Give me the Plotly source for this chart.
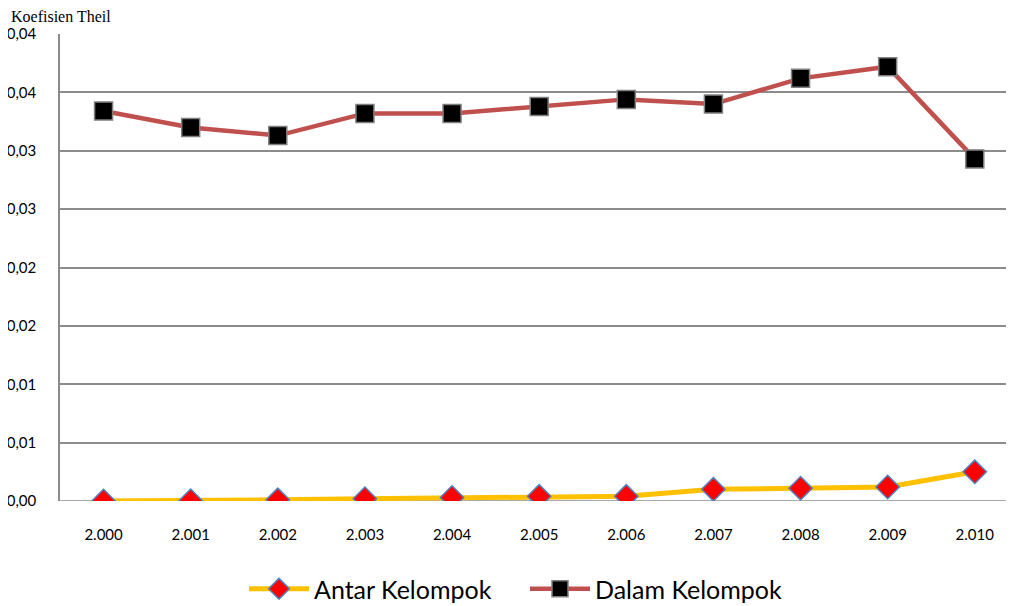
import plotly.graph_objects as go

years = ["2.000", "2.001", "2.002", "2.003", "2.004", "2.005", "2.006", "2.007", "2.008", "2.009", "2.010"]
antar = [0.0000, 0.00002, 0.0001, 0.0002, 0.0003, 0.0004, 0.0004, 0.0010, 0.0011, 0.0012, 0.0025]
dalam = [0.0334, 0.0320, 0.0313, 0.0332, 0.0332, 0.0338, 0.0344, 0.0340, 0.0362, 0.0372, 0.0293]
ytick_vals = [0.0, 0.005, 0.01, 0.015, 0.02, 0.025, 0.03, 0.035, 0.04]
ytick_text = ["0,00", "0,01", "0,01", "0,02", "0,02", "0,03", "0,03", "0,04", "0,04"]

OFF = 8  # page body margin
W, H = 1014 - OFF, 606 - OFF
L, R, T, B = 60 - OFF, 0, 34 - OFF, 105
pw, ph = W - L - R, H - T - B
plot_bottom = OFF + T + ph  # window pixel

fig = go.Figure()
fig.add_trace(go.Scatter(
    x=list(range(len(years))), y=antar, name="Antar Kelompok", mode="lines+markers",
    line=dict(color="#FFC000", width=5),
    marker=dict(symbol="diamond", size=18, color="#FF0000", line=dict(color="#4F81BD", width=1.5)),
))
fig.add_trace(go.Scatter(
    x=list(range(len(years))), y=dalam, name="Dalam Kelompok", mode="lines+markers",
    line=dict(color="#C0504D", width=4.5),
    marker=dict(symbol="square", size=18, color="#000000", line=dict(color="#808080", width=1.5)),
))

fig.update_layout(
    width=W, height=H,
    margin=dict(l=L, r=R, t=T, b=B, autoexpand=False),
    paper_bgcolor="white", plot_bgcolor="white",
    font=dict(family="Lato, 'Open Sans', sans-serif", color="#000000"),
    showlegend=True,
    legend=dict(orientation="h", x=0.5 - 12 / pw, xanchor="center", y=-(589 - plot_bottom) / ph,
                yanchor="middle",
                font=dict(size=25, family="Lato, 'Open Sans', sans-serif"),
                traceorder="normal", itemwidth=60, entrywidth=206, entrywidthmode="pixels"),
    annotations=[dict(text="Koefisien Theil", xref="paper", yref="paper",
                      x=(9 - OFF - L) / pw, y=(plot_bottom - 17) / ph, xanchor="left", yanchor="middle",
                      showarrow=False, font=dict(family="Liberation Serif", size=16))],
)
fig.update_xaxes(
    range=[-0.5, 10.45], tickvals=list(range(len(years))), ticktext=years,
    showgrid=False, zeroline=False, showline=False, ticks="",
    tickfont=dict(size=15), automargin=False, ticklabelstandoff=23,
)
fig.update_yaxes(
    range=[0, 0.04], tickvals=ytick_vals, ticktext=ytick_text,
    showgrid=True, gridcolor="#8C8C8C", gridwidth=1.5,
    zeroline=False, showline=True, linecolor="#8C8C8C", linewidth=1.5,
    ticks="", tickfont=dict(size=15), automargin=False, ticklabelstandoff=19,
)
fig.add_shape(type="line", xref="paper", yref="y", x0=0, x1=1, y0=0, y1=0,
              line=dict(color="#8C8C8C", width=1.5), layer="below")

fig.write_html("out.html")
